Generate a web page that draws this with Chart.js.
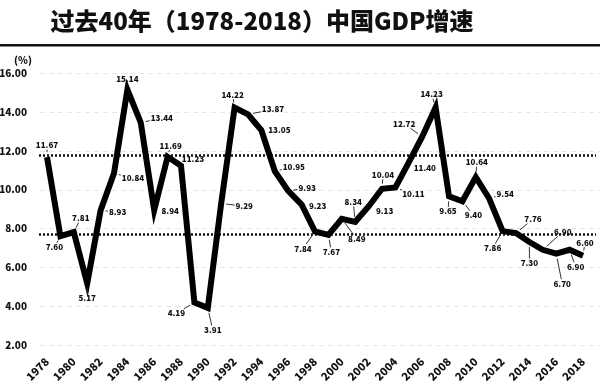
<!DOCTYPE html>
<html>
<head>
<meta charset="utf-8">
<script src="https://cdn.jsdelivr.net/npm/chart.js@4.4.1/dist/chart.umd.min.js"></script>
<style>
  html, body { margin: 0; padding: 0; background: #fff; }
  #wrap { width: 600px; height: 381px; position: relative; }
</style>
</head>
<body>
<div id="wrap"><canvas id="gdp"></canvas></div>
<script>
const years = ['1978', '1979', '1980', '1981', '1982', '1983', '1984', '1985', '1986', '1987',
  '1988', '1989', '1990', '1991', '1992', '1993', '1994', '1995', '1996', '1997',
  '1998', '1999', '2000', '2001', '2002', '2003', '2004', '2005', '2006', '2007',
  '2008', '2009', '2010', '2011', '2012', '2013', '2014', '2015', '2016', '2017', '2018'];

const growth = [11.67, 7.60, 7.81, 5.17, 8.93, 10.84, 15.14, 13.44, 8.94, 11.69,
  11.23, 4.19, 3.91, 9.29, 14.22, 13.87, 13.05, 10.95, 9.93, 9.23,
  7.84, 7.67, 8.49, 8.34, 9.13, 10.04, 10.11, 11.40, 12.72, 14.23,
  9.65, 9.40, 10.64, 9.54, 7.86, 7.76, 7.30, 6.90, 6.70, 6.90, 6.60];

const tickYears = ['1978', '1980', '1982', '1984', '1986', '1988', '1990', '1992', '1994', '1996',
  '1998', '2000', '2002', '2004', '2006', '2008', '2010', '2012', '2014', '2016', '2018'];

// dotted reference lines
const refLines = [11.8, 7.7];

// where each value label sits relative to its point (px)
const labelOffsets = [
  [0, -12], [-6, 11], [7, -14], [0, 15], [17, 2], [19, 5], [0, -11], [21, -5], [16, 1], [3, -11],
  [12, -7], [-18, 11], [5, 22], [23, 3], [-2, -13], [25, -5], [18, 0], [19, -4], [19, -3], [16, 1],
  [-12, 17], [3, 17], [15, 20], [-2, -20], [16, 4], [1, -14], [18, 7], [16, 6], [-18, -13], [-4, -13],
  [-1, 15], [11, 14], [1, -15], [16, -5], [-10, 17], [17, -14], [0, 21], [20, -18], [6, 30], [6, 17],
  [2, -13]
];

const FONT = '"Noto Sans CJK SC", "Noto Sans", sans-serif';

const decor = {
  id: 'decor',
  beforeDatasetsDraw(chart) {
    const { ctx } = chart;
    const y = chart.scales.y;
    ctx.save();
    // faint dashed grid
    ctx.strokeStyle = '#e6e6e6';
    ctx.lineWidth = 1;
    ctx.setLineDash([5, 4]);
    y.ticks.forEach(t => {
      const py = Math.round(y.getPixelForValue(t.value)) + 0.5;
      ctx.beginPath();
      ctx.moveTo(40, py);
      ctx.lineTo(600, py);
      ctx.stroke();
    });
    ctx.strokeStyle = '#111';
    ctx.lineWidth = 2.5;
    ctx.setLineDash([2, 2]);
    refLines.forEach(v => {
      const py = Math.round(y.getPixelForValue(v)) + 0.5;
      ctx.beginPath();
      ctx.moveTo(39, py);
      ctx.lineTo(596, py);
      ctx.stroke();
    });
    ctx.restore();
  },
  afterDatasetsDraw(chart) {
    const { ctx } = chart;
    const pts = chart.getDatasetMeta(0).data;
    ctx.save();
    ctx.font = '900 8px ' + FONT;
    ctx.fillStyle = '#111';
    ctx.strokeStyle = '#333';
    ctx.lineWidth = 1;
    ctx.textAlign = 'center';
    ctx.textBaseline = 'middle';
    pts.forEach((p, i) => {
      const [dx, dy] = labelOffsets[i];
      const txt = growth[i].toFixed(2);
      const lx = p.x + dx, ly = p.y + dy;
      ctx.fillText(txt, lx, ly);
      const len = Math.hypot(dx, dy);
      const ux = dx / len, uy = dy / len;
      const hw = ctx.measureText(txt).width / 2 + 1, hh = 4.5;
      const t = Math.min(ux ? hw / Math.abs(ux) : 1e9, uy ? hh / Math.abs(uy) : 1e9);
      const a = 5, b = len - t;
      if (b - a > 1.5) {
        ctx.beginPath();
        ctx.moveTo(p.x + ux * a, p.y + uy * a);
        ctx.lineTo(p.x + ux * b, p.y + uy * b);
        ctx.stroke();
      }
    });
    ctx.restore();
  },
  afterDraw(chart) {
    const { ctx } = chart;
    ctx.save();
    ctx.fillStyle = '#111';
    ctx.textAlign = 'center';
    ctx.textBaseline = 'middle';
    ctx.font = '900 24px ' + FONT;
    ctx.fillText('过去40年（1978-2018）中国GDP增速', 262, 21);
    ctx.fillRect(0, 44, 600, 2.5);
    ctx.font = '900 10px ' + FONT;
    ctx.fillText('(%)', 23, 60);
    ctx.restore();
  }
};

new Chart(document.getElementById('gdp'), {
  type: 'line',
  data: {
    labels: years,
    datasets: [{
      data: growth,
      borderColor: '#000',
      borderWidth: 6,
      pointRadius: 0,
      tension: 0,
      fill: false
    }]
  },
  options: {
    responsive: true,
    maintainAspectRatio: false,
    animation: false,
    layout: { padding: { top: 73, left: 0, right: 17, bottom: 0 } },
    plugins: {
      legend: { display: false },
      tooltip: { enabled: false }
    },
    scales: {
      x: {
        offset: false,
        afterFit(scale) { scale.height = 36; },
        grid: { display: false },
        border: { display: false },
        ticks: {
          autoSkip: false,
          maxRotation: 45,
          minRotation: 45,
          padding: 2,
          color: '#111',
          font: { family: FONT, size: 11, weight: '900' },
          callback(v, i) {
            const lab = this.getLabelForValue(v);
            return tickYears.includes(lab) ? lab : '';
          }
        }
      },
      y: {
        min: 2,
        max: 16,
        afterFit(scale) { scale.width = 47; },
        grid: { display: false },
        border: { display: false },
        ticks: {
          stepSize: 2,
          padding: 12,
          color: '#111',
          font: { family: FONT, size: 10, weight: '900' },
          callback: v => v.toFixed(2)
        }
      }
    }
  },
  plugins: [decor]
});
</script>
</body>
</html>
